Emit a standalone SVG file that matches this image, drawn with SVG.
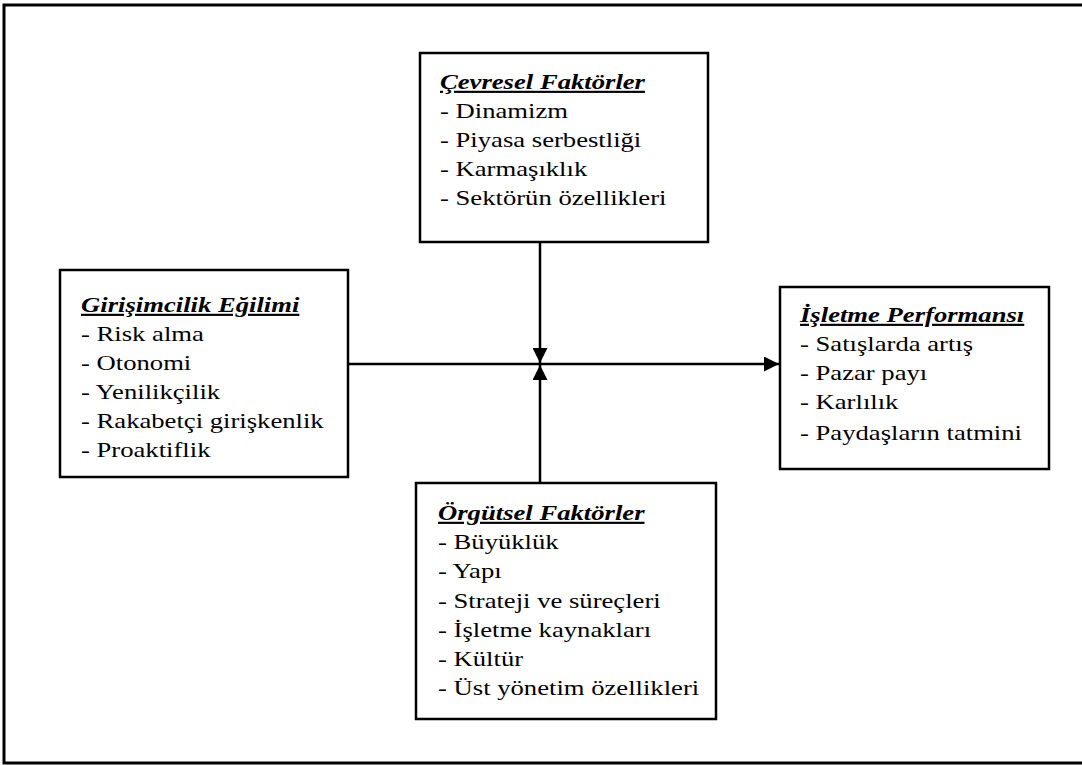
<svg xmlns="http://www.w3.org/2000/svg" width="1082" height="765" viewBox="0 0 1082 765">
  <style>
    .frame { fill: none; stroke: #000; stroke-width: 3; }
    .box { fill: #fff; stroke: #000; stroke-width: 2.5; }
    .link { fill: none; stroke: #000; stroke-width: 2.5; }
    text { font-family: "Liberation Serif", "Times New Roman", serif; font-size: 21.5px; fill: #000; }
    .title { font-weight: bold; font-style: italic; text-decoration: underline; }
  </style>
  <defs>
    <marker id="arrow" viewBox="0 0 10 10" refX="10" refY="5" markerWidth="6" markerHeight="6" markerUnits="strokeWidth" orient="auto">
      <path d="M0,0 L10,5 L0,10 Z" fill="#000"/>
    </marker>
  </defs>

  <rect class="frame" x="4" y="5" width="1090" height="758"/>

  <g id="connectors">
    <line class="link" x1="348" y1="364" x2="779" y2="364" marker-end="url(#arrow)"/>
    <line class="link" x1="540" y1="242" x2="540" y2="363" marker-end="url(#arrow)"/>
    <line class="link" x1="540" y1="483" x2="540" y2="365" marker-end="url(#arrow)"/>
  </g>

  <g id="cevresel">
    <rect class="box" x="420" y="53" width="288" height="189"/>
    <g transform="translate(440,0) scale(1.24,1)">
      <text class="title" x="0" y="89">Çevresel Faktörler</text>
      <text x="0" y="118">- Dinamizm</text>
      <text x="0" y="147">- Piyasa serbestliği</text>
      <text x="0" y="176">- Karmaşıklık</text>
      <text x="0" y="205">- Sektörün özellikleri</text>
    </g>
  </g>

  <g id="girisimcilik">
    <rect class="box" x="60" y="270" width="288" height="207"/>
    <g transform="translate(81,0) scale(1.24,1)">
      <text class="title" x="0" y="312">Girişimcilik Eğilimi</text>
      <text x="0" y="341">- Risk alma</text>
      <text x="0" y="370">- Otonomi</text>
      <text x="0" y="399">- Yenilikçilik</text>
      <text x="0" y="428">- Rakabetçi girişkenlik</text>
      <text x="0" y="457">- Proaktiflik</text>
    </g>
  </g>

  <g id="performans">
    <rect class="box" x="780" y="287" width="269" height="182"/>
    <g transform="translate(800,0) scale(1.24,1)">
      <text class="title" x="0" y="322">İşletme Performansı</text>
      <text x="0" y="351">- Satışlarda artış</text>
      <text x="0" y="380">- Pazar payı</text>
      <text x="0" y="409">- Karlılık</text>
      <text x="0" y="440">- Paydaşların tatmini</text>
    </g>
  </g>

  <g id="orgutsel">
    <rect class="box" x="416" y="483" width="300" height="236"/>
    <g transform="translate(438,0) scale(1.24,1)">
      <text class="title" x="0" y="520">Örgütsel Faktörler</text>
      <text x="0" y="549">- Büyüklük</text>
      <text x="0" y="578">- Yapı</text>
      <text x="0" y="608">- Strateji ve süreçleri</text>
      <text x="0" y="637">- İşletme kaynakları</text>
      <text x="0" y="666">- Kültür</text>
      <text x="0" y="695">- Üst yönetim özellikleri</text>
    </g>
  </g>
</svg>
